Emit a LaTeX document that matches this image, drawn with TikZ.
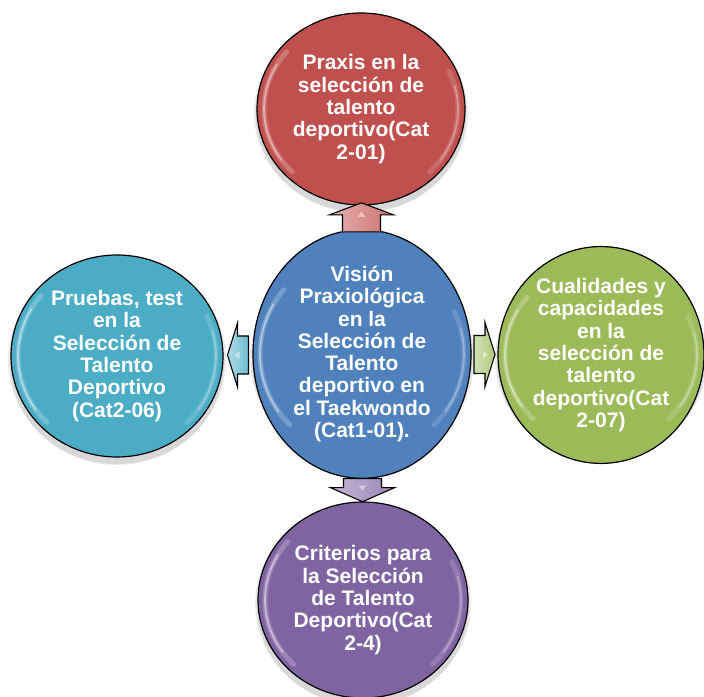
\documentclass[tikz,border=0pt]{standalone}
\usepackage{fontspec}
\setmainfont{Liberation Sans}
\usetikzlibrary{shapes.geometric,calc}
\definecolor{cRed}{HTML}{C0504D}
\definecolor{cBlue}{HTML}{4F81BD}
\definecolor{cCyan}{HTML}{4BACC6}
\definecolor{cGreen}{HTML}{9BBB59}
\definecolor{cPurple}{HTML}{8064A2}
\tikzset{
  bubble/.style={ellipse, draw=black, line width=1.2pt, inner sep=0pt, text=white,
    align=center, font=\bfseries\fontsize{21}{22.3}\selectfont},
  glint/.style={white, opacity=0.22, line width=5pt, line cap=round},
  glintcore/.style={white, opacity=0.45, line width=1.6pt, line cap=round},
  softshadow/.style={fill=black, opacity=0.08},
  pics/barrow/.style n args={3}{code={
    \path[draw=black, line width=1.1pt, left color=#3!45!white, right color=#3!80!white]
      (-#1/2,-19) -- (#1/2-#2,-19) -- (#1/2-#2,-32) -- (#1/2,0) -- (#1/2-#2,32)
      -- (#1/2-#2,19) -- (-#1/2,19) -- cycle;
    \fill[white, opacity=0.45] (#1/2-#2-2,-4) -- (#1/2-#2+3,0) -- (#1/2-#2-2,4) -- cycle;
  }}
}
\newcommand\mygloss[3]{%
  \draw[glint] ($(#1.center)+(140:#2 and #3)$) arc[start angle=140, end angle=225, x radius=#2, y radius=#3];
  \draw[glintcore] ($(#1.center)+(150:#2 and #3)$) arc[start angle=150, end angle=215, x radius=#2, y radius=#3];
  \draw[glint, opacity=0.15] ($(#1.center)+(-45:#2 and #3)$) arc[start angle=-45, end angle=25, x radius=#2, y radius=#3];
  \draw[glintcore, opacity=0.3] ($(#1.center)+(-35:#2 and #3)$) arc[start angle=-35, end angle=15, x radius=#2, y radius=#3];
}
\newcommand\myshadow[4]{%
  \fill[softshadow] (#1,#2-4) ellipse[x radius=#3+3, y radius=#4+3];
  \fill[softshadow] (#1,#2-6) ellipse[x radius=#3+1, y radius=#4+2];
}
\begin{document}
\begin{tikzpicture}[x=1pt,y=1pt]
\useasboundingbox (0,0) rectangle (704,696);
\fill[white] (0,0) rectangle (704,696);
% shadows
\myshadow{362}{342}{109}{107}
\myshadow{361}{587}{104}{96}
\myshadow{117}{340}{106}{101}
\myshadow{601}{341}{103}{97}
\myshadow{363}{96}{105}{98}
% nodes
\node[bubble, fill=cBlue, minimum width=218pt, minimum height=214pt] (c) at (362,342)
  {Visión\\Praxiológica\\en la\\Selección de\\Talento\\deportivo en\\el Taekwondo\\(Cat1-01).};
\node[bubble, fill=cRed, minimum width=208pt, minimum height=192pt] (t) at (361,587)
  {Praxis en la\\selección de\\talento\\deportivo(Cat\\2-01)};
\node[bubble, fill=cCyan, minimum width=212pt, minimum height=202pt] (l) at (117,340)
  {Pruebas, test\\en la\\Selección de\\Talento\\Deportivo\\(Cat2-06)};
\node[bubble, fill=cGreen, minimum width=206pt, minimum height=194pt] (r) at (601,341)
  {Cualidades y\\capacidades\\en la\\selección de\\talento\\deportivo(Cat\\2-07)};
\node[bubble, fill=cPurple, minimum width=210pt, minimum height=196pt] (b) at (363,96)
  {Criterios para\\la Selección\\de Talento\\Deportivo(Cat\\2-4)};
% gloss
\mygloss{c}{102}{100}
\mygloss{t}{97}{89}
\mygloss{l}{99}{94}
\mygloss{r}{96}{90}
\mygloss{b}{98}{91}
% block arrows
\path ($(c.north)!0.5!(t.south)$) pic[rotate=90]{barrow={29}{12}{cRed}};
\path ($(c.west)!0.5!(l.east)$) pic[rotate=180]{barrow={21}{10}{cCyan}};
\path ($(c.east)!0.5!(r.west)$) pic{barrow={21}{10}{cGreen}};
\path ($(c.south)!0.5!(b.north)$) pic[rotate=-90]{barrow={23}{14}{cPurple}};
\end{tikzpicture}
\end{document}
